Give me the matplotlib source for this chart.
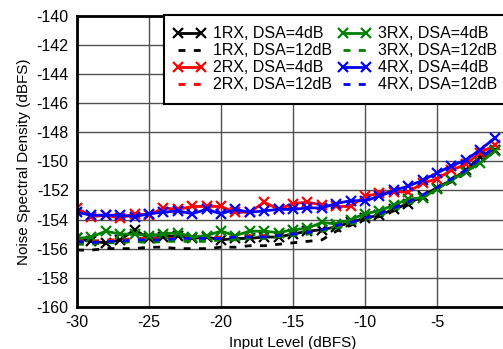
import numpy as np
import matplotlib
matplotlib.use('Agg')
import matplotlib.pyplot as plt
from matplotlib.lines import Line2D
from matplotlib.legend_handler import HandlerLine2D

plt.rcParams['font.family'] = ['Liberation Sans', 'DejaVu Sans']
plt.rcParams['axes.unicode_minus'] = False

# input level (dBFS)
input_level = list(range(-30, 0))

# noise spectral density (dBFS), DSA = 4 dB
rx1_4db = [-155.3, -155.5, -155.6, -155.4, -154.7, -155.3, -155.2, -155.1, -155.3, -155.2,
           -155.4, -155.3, -155.3, -155.2, -155.2, -155.0, -154.8, -154.7, -154.5, -154.2,
           -153.9, -153.7, -153.3, -152.9, -152.4, -151.8, -151.3, -150.6, -149.7, -149.2]
rx2_4db = [-153.2, -153.8, -153.7, -153.9, -153.6, -153.7, -153.2, -153.3, -153.1, -153.1,
           -153.1, -153.5, -153.5, -152.8, -153.3, -152.9, -152.8, -153.0, -153.1, -153.1,
           -152.4, -152.2, -152.1, -152.1, -151.5, -151.2, -150.6, -150.2, -149.4, -148.9]
rx3_4db = [-155.3, -155.2, -154.8, -155.0, -155.0, -155.1, -155.0, -154.9, -155.2, -155.1,
           -154.8, -155.1, -154.8, -154.8, -154.9, -154.7, -154.6, -154.2, -154.3, -154.0,
           -153.6, -153.4, -153.0, -152.6, -152.5, -151.9, -151.3, -150.7, -150.1, -149.3]
rx4_4db = [-153.5, -153.7, -153.7, -153.7, -153.8, -153.6, -153.5, -153.4, -153.6, -153.3,
           -153.6, -153.3, -153.5, -153.4, -153.3, -153.3, -153.2, -153.2, -152.9, -152.7,
           -152.7, -152.4, -152.0, -151.7, -151.3, -150.8, -150.3, -149.9, -149.2, -148.4]

# noise spectral density (dBFS), DSA = 12 dB
rx1_12db = [-156.1, -156.1, -156.0, -156.0, -156.0, -155.9, -155.9, -156.0, -156.0, -156.0,
            -155.9, -155.9, -155.8, -155.8, -155.7, -155.6, -155.5, -155.4, -154.8, -154.4,
            -154.0, -153.8, -153.4, -153.0, -152.5, -151.9, -151.4, -150.8, -150.0, -149.3]
rx2_12db = [-155.4, -155.5, -155.4, -155.4, -155.3, -155.3, -155.3, -155.3, -155.2, -155.3,
            -155.2, -155.2, -155.1, -155.1, -155.1, -155.0, -154.9, -154.8, -154.5, -154.3,
            -153.9, -153.6, -153.2, -152.8, -152.4, -151.8, -151.2, -150.6, -149.9, -149.1]
rx3_12db = [-155.7, -155.7, -155.6, -155.6, -155.5, -155.6, -155.5, -155.5, -155.5, -155.5,
            -155.4, -155.4, -155.3, -155.3, -155.2, -155.1, -155.0, -154.8, -154.6, -154.3,
            -154.0, -153.7, -153.3, -152.9, -152.5, -151.9, -151.3, -150.7, -150.0, -149.3]
rx4_12db = [-155.5, -155.6, -155.5, -155.5, -155.4, -155.4, -155.4, -155.3, -155.3, -155.3,
            -155.3, -155.2, -155.2, -155.2, -155.1, -155.0, -154.9, -154.7, -154.4, -154.2,
            -153.9, -153.6, -153.2, -152.8, -152.3, -151.8, -151.2, -150.6, -149.8, -149.0]

fig = plt.figure(figsize=(5.03, 3.49), dpi=100)
ax = fig.add_axes([0.153, 0.121, 0.859, 0.833])

dash = (0, (2.5, 3))
ax.plot(input_level, rx1_4db, color='black', marker='x', ms=6.5, mew=1.6, lw=2, label='1RX, DSA=4dB')
ax.plot(input_level, rx1_12db, color='black', ls=dash, lw=2, label='1RX, DSA=12dB')
ax.plot(input_level, rx2_4db, color='red', marker='x', ms=6.5, mew=1.6, lw=2, label='2RX, DSA=4dB')
ax.plot(input_level, rx2_12db, color='red', ls=dash, lw=2, label='2RX, DSA=12dB')
ax.plot(input_level, rx3_4db, color='green', marker='x', ms=6.5, mew=1.6, lw=2, label='3RX, DSA=4dB')
ax.plot(input_level, rx3_12db, color='green', ls=dash, lw=2, label='3RX, DSA=12dB')
ax.plot(input_level, rx4_4db, color='blue', marker='x', ms=6.5, mew=1.6, lw=2, label='4RX, DSA=4dB')
ax.plot(input_level, rx4_12db, color='blue', ls=dash, lw=2, label='4RX, DSA=12dB')

ax.set_xlim(-30, 0)
ax.set_ylim(-160, -140)
ax.set_xticks(np.arange(-30, 1, 5))
ax.set_yticks(np.arange(-160, -139, 2))
ax.tick_params(length=0, labelsize=11.5, pad=6)
ax.grid(True, color='#505050', lw=1)
ax.set_axisbelow(True)
for sp in ax.spines.values():
    sp.set_linewidth(2)

ax.set_xlabel('Input Level (dBFS)', fontsize=11, labelpad=4)
ax.set_ylabel('Noise Spectral Density (dBFS)', fontsize=11, labelpad=4)

leg = ax.legend(ncol=2, loc='upper left', bbox_to_anchor=(164 / 503, 1 - 15 / 349),
                bbox_transform=fig.transFigure, fontsize=11.5, frameon=True, fancybox=False,
                edgecolor='black', framealpha=1, handlelength=1.75,
                handler_map={Line2D: HandlerLine2D(numpoints=2, marker_pad=0.15)},
                handletextpad=0.6, columnspacing=0.55, labelspacing=0.13, borderpad=0.7,
                borderaxespad=0)
leg.get_frame().set_linewidth(1.5)

fig.savefig('out.png', dpi=100)
